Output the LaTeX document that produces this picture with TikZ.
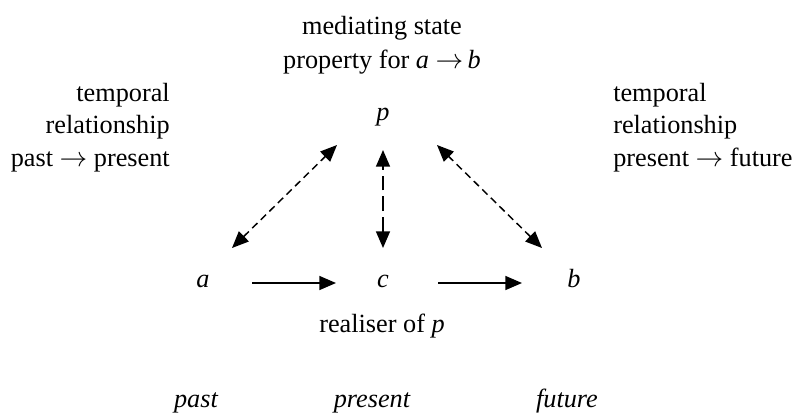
\documentclass[tikz,border=0pt]{standalone}
\usepackage{fontspec}
\setmainfont{Liberation Serif}
\usepackage{tikz}
\usetikzlibrary{arrows.meta, positioning}

\tikzset{
  lbl/.style={font=\fontsize{19.7}{24}\selectfont, inner sep=0pt},
  var/.style={lbl, font=\fontsize{19.7}{24}\selectfont\itshape, anchor=base},
  flow/.style={line width=1.1pt, -{Triangle[length=12.5pt, width=10.5pt]}},
  link/.style={line width=1.1pt, dash pattern=on 5.5pt off 3.5pt,
    {Triangle[length=12.5pt, width=10.5pt]}-{Triangle[length=12.5pt, width=10.5pt]}},
  longlink/.style={link, dash pattern=on 11pt off 4.5pt}
}
\newcommand{\ra}{\ensuremath{\rightarrow}}

\begin{document}
\begin{tikzpicture}[x=0.75pt, y=-0.75pt]
\useasboundingbox (0,0) rectangle (793,412);

% states
\node[var] (p) at (383,120) {p};
\node[var] (a) at (203,287) {a};
\node[var] (c) at (383,287) {c};
\node[var] (b) at (574,287) {b};

% captions
\node[lbl, anchor=base] (medtop) at (382,34) {mediating state};
\node[lbl, anchor=base] (medbot) at (382,68) {property for \textit{a} \ra\,\textit{b}};
\node[lbl, anchor=base] (real) at (382,332) {realiser of \textit{p}};

\node[lbl, anchor=base east] (lt1) at (170,101) {temporal};
\node[lbl, anchor=base east] (lt2) at (170,133) {relationship};
\node[lbl, anchor=base east] (lt3) at (170,166) {past \ra\ present};
\node[lbl, anchor=base west] (rt1) at (613,101) {temporal};
\node[lbl, anchor=base west] (rt2) at (613,133) {relationship};
\node[lbl, anchor=base west] (rt3) at (613,166) {present \ra\ future};

\node[var] (past) at (196,407) {past};
\node[var] (present) at (372,407) {present};
\node[var] (future) at (567,407) {future};

% causal flow
\draw[flow] ([shift={(49,-4)}]a.base) -- ([shift={(-47,-4)}]c.base);
\draw[flow] ([shift={(55,-4)}]c.base) -- ([shift={(-52,-4)}]b.base);

% mediation
\draw[link] ([shift={(29,-39)}]a.base) -- ([shift={(-46,25)}]p.base);
\draw[longlink] ([shift={(0,-39)}]c.base) -- ([shift={(0,30)}]p.base);
\draw[link] ([shift={(-32,-39)}]b.base) -- ([shift={(54,25)}]p.base);
\end{tikzpicture}
\end{document}
